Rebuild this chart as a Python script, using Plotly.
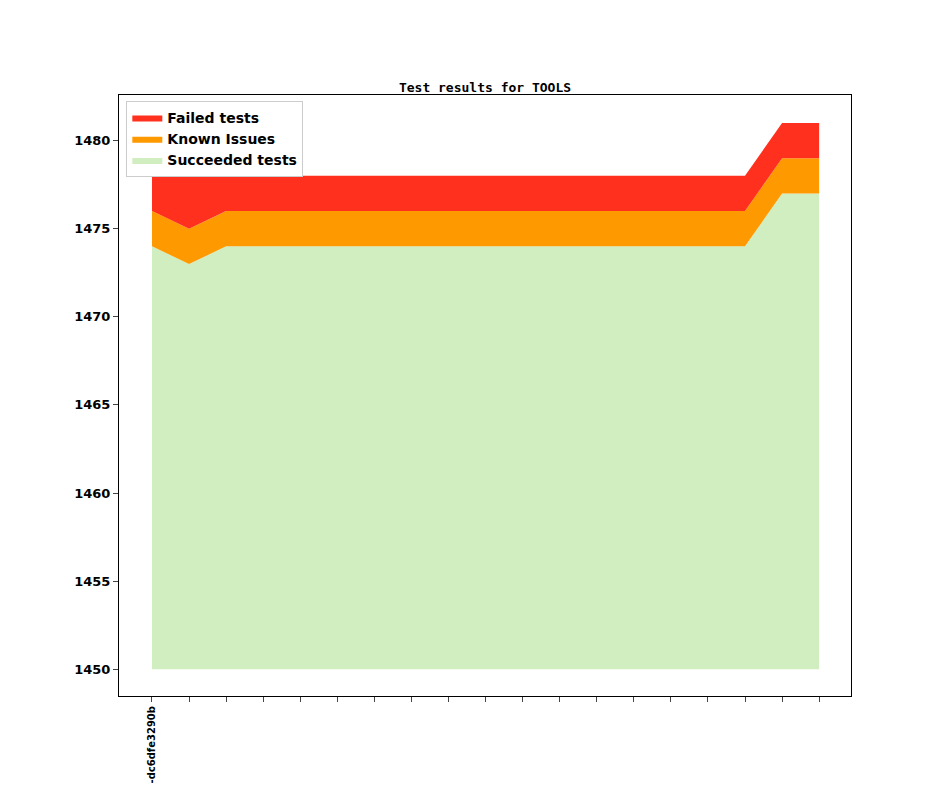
import plotly.graph_objects as go

# commit index positions, only the first one has a readable label
commits = list(range(19))
tick_labels = ["<b>-dc6dfe3290b</b>"] + [""] * 18
base = 1450
succeeded = [24, 23, 24, 24, 24, 24, 24, 24, 24, 24, 24, 24, 24, 24, 24, 24, 24, 27, 27]
known = [2] * 19
failed = [2, 3, 2, 2, 2, 2, 2, 2, 2, 2, 2, 2, 2, 2, 2, 2, 2, 2, 2]

top_ok = [base + s for s in succeeded]
top_known = [t + k for t, k in zip(top_ok, known)]
top_failed = [t + f for t, f in zip(top_known, failed)]

fig = go.Figure()
fig.add_trace(go.Scatter(x=commits, y=[base] * 19, mode='lines',
                         line=dict(width=0), showlegend=False, hoverinfo='skip'))
fig.add_trace(go.Scatter(x=commits, y=top_ok, mode='lines', fill='tonexty',
                         fillcolor='#d0eec0', line=dict(width=0), name='<b>Succeeded tests</b>'))
fig.add_trace(go.Scatter(x=commits, y=top_known, mode='lines', fill='tonexty',
                         fillcolor='#ff9900', line=dict(width=0), name='<b>Known Issues</b>'))
fig.add_trace(go.Scatter(x=commits, y=top_failed, mode='lines', fill='tonexty',
                         fillcolor='#ff311e', line=dict(width=0), name='<b>Failed tests</b>'))

fig.update_layout(
    width=944, height=787,
    paper_bgcolor='white', plot_bgcolor='white',
    margin=dict(l=111, r=101, t=87, b=90),
    title=dict(text='<b>Test results for TOOLS</b>', x=0.5, xref='paper', y=0.905,
               font=dict(family='DejaVu Sans Mono', size=13, color='black')),
    font=dict(family='DejaVu Sans', color='black'),
    showlegend=True,
    legend=dict(x=0.01, y=0.99, xanchor='left', yanchor='top', traceorder='reversed',
                bordercolor='#cccccc', borderwidth=1, bgcolor='white',
                font=dict(size=14, family='DejaVu Sans')),
    xaxis=dict(range=[-0.89, 18.86], tickvals=commits, ticktext=tick_labels,
               tickangle=-90, ticks='outside', ticklen=5, showgrid=False, zeroline=False,
               showline=True, linecolor='black', mirror=True,
               tickfont=dict(size=10, family='DejaVu Sans')),
    yaxis=dict(range=[1448.48, 1482.59], tickvals=[1450, 1455, 1460, 1465, 1470, 1475, 1480],
               ticktext=['<b>%d</b>' % v for v in [1450, 1455, 1460, 1465, 1470, 1475, 1480]],
               ticks='outside', ticklen=5, showgrid=False, zeroline=False,
               showline=True, linecolor='black', mirror=True,
               tickfont=dict(size=13, family='DejaVu Sans')),
)

fig.write_html("out.html")
